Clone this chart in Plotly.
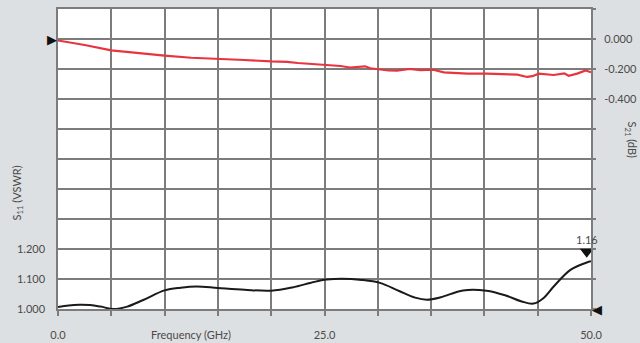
import plotly.graph_objects as go

# S21 insertion loss (dB), right axis
s21_freq = [0, 1, 2.5, 5, 7.5, 10, 12.5, 15, 17.5, 20, 21.5, 22.5, 25, 26.5, 27.4, 28.3, 28.8,
            29.3, 30.2, 31, 31.8, 33, 34, 35.2, 36.2, 37.2, 38.4, 40.2, 42, 43.1, 44, 44.5,
            45.1, 46, 46.5, 47.5, 47.9, 48.7, 49.2, 49.5, 50]
s21_db = [-0.01, -0.02, -0.04, -0.076, -0.095, -0.111, -0.125, -0.131, -0.14, -0.149, -0.152,
          -0.16, -0.17, -0.18, -0.19, -0.187, -0.182, -0.195, -0.205, -0.21, -0.211, -0.2,
          -0.207, -0.205, -0.222, -0.225, -0.231, -0.231, -0.235, -0.238, -0.253, -0.248,
          -0.231, -0.236, -0.24, -0.229, -0.245, -0.231, -0.22, -0.209, -0.222]

# S11 VSWR, left axis
s11_freq = [0, 1, 2, 3, 4, 5.2, 6.5, 8, 10, 11.5, 13, 15, 17.5, 20, 22, 24, 25.2, 26.6, 28.5,
            30.2, 32, 33.5, 34.6, 35.9, 38, 40.2, 42, 43.5, 44.6, 45.5, 46.5, 48.1, 49.6, 50]
s11_vswr = [1.007, 1.012, 1.014, 1.013, 1.008, 1.0, 1.008, 1.03, 1.062, 1.071, 1.075, 1.07,
            1.064, 1.061, 1.072, 1.09, 1.098, 1.101, 1.097, 1.087, 1.06, 1.038, 1.031, 1.039,
            1.062, 1.061, 1.045, 1.025, 1.018, 1.035, 1.075, 1.131, 1.155, 1.159]

x_ticks = [0, 5, 10, 15, 20, 25, 30, 35, 40, 45, 50]
x_labels = ["0.0", "", "", "", "", "25.0", "", "", "", "", "50.0"]
y_ticks = [1.0, 1.1, 1.2, 1.3, 1.4, 1.5, 1.6, 1.7, 1.8, 1.9, 2.0]
y_labels = ["1.000", "1.100", "1.200", "", "", "", "", "", "", "", ""]
y2_ticks = [0.2, 0.0, -0.2, -0.4, -0.6, -0.8, -1.0, -1.2, -1.4, -1.6, -1.8]
y2_labels = ["", "0.000", "-0.200", "-0.400", "", "", "", "", "", "", ""]
marker_value = 1.16

FONT = "Lato, Open Sans, sans-serif"
TXT = "#4a4a4a"
GRID = "#7c7c7c"

fig = go.Figure()
fig.add_trace(go.Scatter(x=s11_freq, y=s11_vswr, mode="lines", line=dict(color="#1a1a1a", width=2, shape="spline"),
                         yaxis="y", showlegend=False, hoverinfo="skip"))
fig.add_trace(go.Scatter(x=s21_freq, y=s21_db, mode="lines", line=dict(color="#e8343f", width=2.2),
                         yaxis="y2", showlegend=False, hoverinfo="skip"))
# marker at the end of the S11 trace
fig.add_trace(go.Scatter(x=[s11_freq[-1] - 0.4], y=[marker_value + 0.031], mode="markers", yaxis="y",
                         cliponaxis=False, marker=dict(symbol="triangle-down", size=12, color="#111"),
                         showlegend=False, hoverinfo="skip"))
fig.add_annotation(x=s11_freq[-1] - 0.4, y=marker_value + 0.031, xref="x", yref="y", text=f"{marker_value:.2f}",
                   showarrow=False, yanchor="bottom", yshift=4, font=dict(family=FONT, size=11, color=TXT))
# reference arrows on the frame
fig.add_annotation(x=0, y=0.0, xref="x", yref="y2", text="\u25B6", showarrow=False, xanchor="right",
                   xshift=1, font=dict(family="DejaVu Sans", size=13, color="#111"))
fig.add_annotation(x=50, y=1.0, xref="x", yref="y", text="\u25C0", showarrow=False, xanchor="left",
                   xshift=-1, font=dict(family="DejaVu Sans", size=13, color="#111"))

fig.add_annotation(x=12.5, y=0, xref="x", yref="paper", text="Frequency (GHz)", showarrow=False,
                   yanchor="middle", yshift=-25, font=dict(family=FONT, size=11, color=TXT))
fig.add_annotation(x=0, y=0.385, xref="paper", yref="paper", text="S<sub>11</sub> (VSWR)", showarrow=False,
                   textangle=-90, xanchor="center", xshift=-41, font=dict(family=FONT, size=11, color=TXT))
fig.add_annotation(x=1, y=0.565, xref="paper", yref="paper", text="S<sub>21</sub> (dB)", showarrow=False,
                   textangle=90, xanchor="center", xshift=40, font=dict(family=FONT, size=11, color=TXT))

fig.update_layout(
    width=640, height=343,
    margin=dict(l=58, r=49, t=9, b=34, autoexpand=False),
    paper_bgcolor="#dde0e2", plot_bgcolor="#ffffff",
    font=dict(family=FONT, size=11, color=TXT),
    xaxis=dict(range=[0, 50], tickvals=x_ticks, ticktext=x_labels, showgrid=True, gridcolor=GRID,
               gridwidth=1.5, showline=True, linecolor=GRID, linewidth=1.5, mirror=True,
               ticks="outside", ticklen=5, tickcolor=GRID, tickwidth=1.5, ticklabelstandoff=10,
               zeroline=False, automargin=False),
    yaxis=dict(range=[1.0, 2.0], tickvals=y_ticks, ticktext=y_labels, showgrid=True, gridcolor=GRID,
               gridwidth=1.5, showline=True, linecolor=GRID, linewidth=1.5, mirror=True,
               ticks="", ticklabelstandoff=9, zeroline=False, automargin=False),
    yaxis2=dict(range=[-1.8, 0.2], overlaying="y", side="right", tickvals=y2_ticks, ticktext=y2_labels,
                showgrid=False, zeroline=False, ticks="outside", ticklen=4, tickcolor=GRID, tickwidth=1.5,
                ticklabelstandoff=6, automargin=False),
)

fig.write_html("out.html")
